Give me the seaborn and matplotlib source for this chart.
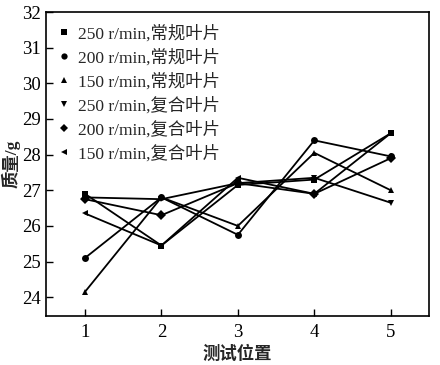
import matplotlib
matplotlib.use("Agg")
import matplotlib.pyplot as plt
import seaborn as sns
import pandas as pd
from matplotlib.lines import Line2D

sns.set_theme(style="ticks")
plt.rcParams['font.family'] = ['Liberation Serif', 'Noto Sans CJK SC']
plt.rcParams['axes.unicode_minus'] = False

positions = [1, 2, 3, 4, 5]
series_names = ["250 r/min,常规叶片", "200 r/min,常规叶片", "150 r/min,常规叶片",
                "250 r/min,复合叶片", "200 r/min,复合叶片", "150 r/min,复合叶片"]
s250_normal = [26.9, 25.45, 27.15, 27.3, 28.6]
s200_normal = [25.1, 26.8, 25.75, 28.4, 27.95]
s150_normal = [24.15, 26.8, 26.0, 28.05, 27.0]
s250_comp = [26.8, 26.75, 27.2, 27.35, 26.65]
s200_comp = [26.75, 26.3, 27.2, 26.9, 27.9]
s150_comp = [26.35, 25.45, 27.35, 26.9, 28.6]
yticks = [24, 25, 26, 27, 28, 29, 30, 31, 32]

all_series = [s250_normal, s200_normal, s150_normal, s250_comp, s200_comp, s150_comp]
rows = []
for name, vals in zip(series_names, all_series):
    for x, v in zip(positions, vals):
        rows.append({"pos": x, "mass": v, "series": name})
df = pd.DataFrame(rows)

markers = dict(zip(series_names, ["s", "o", "^", "v", "D", "<"]))
palette = {n: "black" for n in series_names}

fig = plt.figure(figsize=(4.4, 3.65), dpi=100)
ax = fig.add_axes([0.1045, 0.134, 0.8705, 0.833])

sns.lineplot(data=df, x="pos", y="mass", hue="series", style="series",
             markers=markers, dashes=False, palette=palette, ax=ax,
             linewidth=1.3, markersize=5, markeredgewidth=0, legend=False,
             hue_order=series_names, style_order=series_names)

ax.set_xlim(0.49, 5.5)
ax.set_ylim(23.47, 32)
ax.set_xticks(positions)
ax.set_yticks(yticks)
ax.tick_params(direction="in", length=5, width=1, labelsize=13.5, colors="black",
               top=False, right=False, pad=4)
ax.tick_params(axis="x", pad=6)
for sp in ax.spines.values():
    sp.set_color("black")
    sp.set_linewidth(1.2)

ax.set_xlabel("测试位置", fontsize=12.5, fontweight="bold", labelpad=3)
ax.set_ylabel("质量/g", fontsize=12.5, fontweight="bold", labelpad=1)

handles = [Line2D([], [], marker=markers[n], color="black", linestyle="none",
                  markersize=4.5, markeredgewidth=0) for n in series_names]
leg = ax.legend(handles, series_names, loc="upper left", frameon=False,
                fontsize=12.5, handlelength=0.6, handletextpad=0.5,
                labelspacing=0.38, borderaxespad=0.35,
                bbox_to_anchor=(0.0, 1.0))

fig.savefig("out.png", dpi=100)
